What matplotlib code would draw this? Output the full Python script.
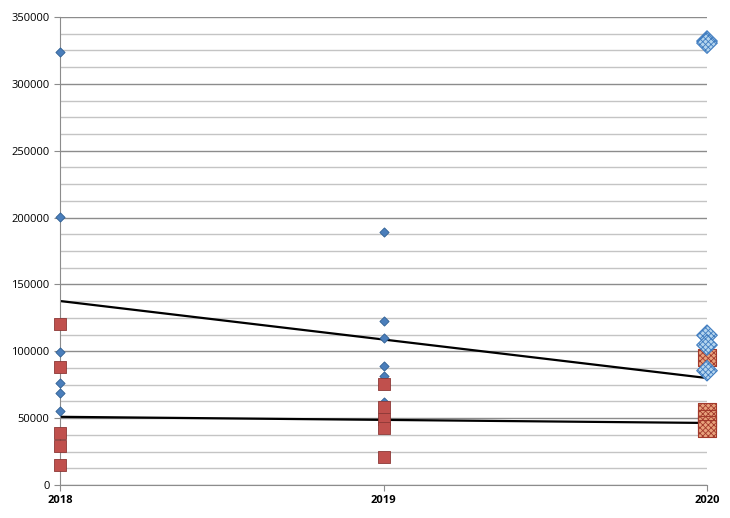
import numpy as np
import matplotlib.pyplot as plt
from matplotlib.ticker import MultipleLocator

plt.rcParams['font.family'] = ['Open Sans', 'DejaVu Sans']
plt.rcParams['hatch.linewidth'] = 0.6

# blue diamonds
blue_2018 = [324000, 200500, 99500, 76300, 68800, 55300]
blue_2019 = [189200, 122700, 110000, 89000, 81500, 62000]
# red squares
red_2018 = [120400, 88300, 38900, 29200, 15000]
red_2019 = [75500, 58300, 49300, 42600, 21000]
# 2020 (larger, patterned markers)
blue_2020 = [332000, 330500, 112000, 104700, 85500]
red_2020 = [95000, 55000, 50000, 45000, 42000]

trend_years = [2018, 2020]
trend_blue = [137600, 80000]
trend_red = [51000, 46400]

fig = plt.figure(figsize=(7.3, 5.18), dpi=100)
ax = fig.add_axes([60 / 730, 33 / 518, 647 / 730, 468 / 518])

ax.yaxis.set_major_locator(MultipleLocator(50000))
ax.yaxis.set_minor_locator(MultipleLocator(12500))
ax.grid(which='major', axis='y', color='#8c8c8c', lw=1.0)
ax.grid(which='minor', axis='y', color='#c4c4c4', lw=1.0)
ax.set_axisbelow(True)

ax.plot(trend_years, trend_blue, color='black', lw=1.6, zorder=2)
ax.plot(trend_years, trend_red, color='black', lw=1.6, zorder=2)

ax.scatter([2018] * len(blue_2018), blue_2018, marker='D', s=22,
           color='#4a7ebb', edgecolor='#2f5f93', lw=0.6, zorder=3, clip_on=False)
ax.scatter([2019] * len(blue_2019), blue_2019, marker='D', s=22,
           color='#4a7ebb', edgecolor='#2f5f93', lw=0.6, zorder=3, clip_on=False)
ax.scatter([2018] * len(red_2018), red_2018, marker='s', s=75,
           color='#c0504d', edgecolor='#8c3836', lw=0.6, zorder=3, clip_on=False)
ax.scatter([2019] * len(red_2019), red_2019, marker='s', s=75,
           color='#c0504d', edgecolor='#8c3836', lw=0.6, zorder=3, clip_on=False)

ax.scatter([2020] * len(red_2020), red_2020, marker='s', s=150,
           facecolor='#e8a27c', edgecolor='#a33a2c', hatch='xxxxxx', lw=0.8,
           zorder=3, clip_on=False)
ax.scatter([2020] * len(blue_2020), blue_2020, marker='D', s=110,
           facecolor='#b5d5ee', edgecolor='#3f7cc0', hatch='xxxxxx', lw=0.8,
           zorder=4, clip_on=False)

ax.set_xlim(2018, 2020)
ax.set_ylim(0, 350000)
ax.set_xticks([2018, 2019, 2020])
ax.set_xticklabels(['2018', '2019', '2020'], fontweight='bold')

for s in ['top', 'right']:
    ax.spines[s].set_visible(False)
for s in ['left', 'bottom']:
    ax.spines[s].set_color('#8c8c8c')

ax.tick_params(axis='both', which='major', labelsize=8, colors='#8c8c8c',
               labelcolor='black', length=4)
ax.tick_params(axis='y', which='minor', length=0)

fig.savefig('out.png', dpi=100)
